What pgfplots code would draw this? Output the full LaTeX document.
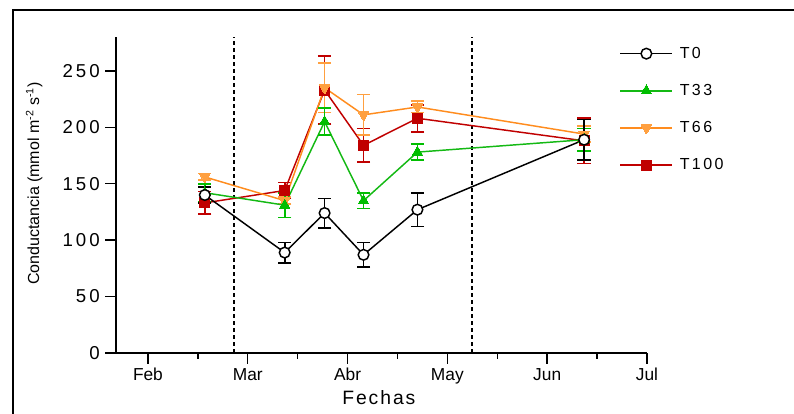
\documentclass[border=0pt]{standalone}
\usepackage{pgfplots}
\pgfplotsset{compat=1.18}
\usepackage{fontspec}
\setmainfont{Liberation Sans}
\newfontfamily\spaced[LetterSpace=10]{Liberation Sans}
\newfontfamily\tickfont[LetterSpace=16]{Liberation Sans}
\definecolor{cgreen}{RGB}{20,185,20}
\definecolor{cgreenm}{RGB}{0,190,0}
\definecolor{corange}{RGB}{255,140,30}
\definecolor{corangem}{RGB}{255,160,64}
\definecolor{cred}{RGB}{192,0,0}

\pgfplotstableread{
x y e
2.57 140 7
3.37 89 9
3.77 124 13
4.16 87 11
4.70 127 15
6.37 189 18
}\tzero
\pgfplotstableread{
x y e
2.57 142 8
3.37 131 11
3.77 205 12
4.16 135 7
4.70 178 7
6.37 189 10
}\tthree
\pgfplotstableread{
x y e
2.57 156 3
3.37 135 3
3.77 235 22
4.16 211 18
4.70 218 5
6.37 194 7
}\tsix
\pgfplotstableread{
x y e
2.57 133 10
3.37 144 7
3.77 233 30
4.16 184 15
4.70 208 12
6.37 188 20
}\thund

\begin{document}
\begin{tikzpicture}
\useasboundingbox (-87pt,-45.75pt) rectangle (508.5pt,264.75pt);
\draw[line width=1.2pt, line join=miter] (-77.25pt,-50pt) -- (-77.25pt,257.25pt) -- (515pt,257.25pt);
\begin{axis}[
  at={(0,0)}, anchor=south west,
  scale only axis, width=398.25pt, height=237pt,
  xmin=1.68, xmax=7, ymin=0, ymax=280,
  axis x line=bottom, axis y line=left,
  axis line style={-, line width=1.1pt},
  xtick={2,3,4,5,6,7},
  xticklabels={Feb,Mar,Abr,May,Jun,Jul},
  minor xtick={2.5,3.5,4.5,5.5,6.5},
  ytick={0,50,100,150,200,250},
  tick align=outside,
  major tick length=8pt, minor tick length=4.5pt,
  every tick/.style={line width=1.1pt, black},
  /pgf/number format/assume math mode=true,
  yticklabel style={font=\tickfont\fontsize{14}{16}\selectfont, inner sep=1pt, xshift=-3pt},
  xticklabel style={font=\fontsize{13}{15}\selectfont},
  xlabel={\spaced Fechas},
  xlabel style={font=\fontsize{14.5}{16}\selectfont, at={(axis description cs:0.495,-0.142)}, anchor=center},
  ylabel={Conductancia (mmol m\textsuperscript{-2} s\textsuperscript{-1})},
  ylabel style={font=\fontsize{12}{14}\selectfont, at={(axis description cs:-0.154,0.536)}, anchor=center, rotate=0},
  legend style={at={(0.948,0.969)}, anchor=north west, draw=none, fill=none, inner sep=0pt,
    font=\fontsize{12}{14}\selectfont\addfontfeature{LetterSpace=15},
    row sep=18pt, column sep=5pt, nodes={inner sep=0pt, anchor=west}},
  legend cell align=left,
  legend image code/.code={\draw[mark repeat=2,mark phase=2] plot coordinates {(0pt,0pt) (19.5pt,0pt) (39pt,0pt)};},
  clip=false,
]
\addlegendimage{black, line width=1.1pt, mark=*, mark size=4pt, mark options={fill=white, line width=1.1pt}}
\addlegendentry{T0}
\addlegendimage{cgreen, line width=1.1pt, mark=triangle*, mark size=4.5pt, mark options={fill=cgreenm, draw=cgreenm, line width=0pt}}
\addlegendentry{T33}
\addlegendimage{corange, line width=1.1pt, mark=triangle*, mark size=4.5pt, mark options={rotate=180, fill=corangem, draw=corangem, line width=0pt}}
\addlegendentry{T66}
\addlegendimage{cred, line width=1.1pt, mark=square*, mark size=3.8pt, mark options={fill=cred, draw=cred, line width=0pt}}
\addlegendentry{T100}

\addplot[forget plot, black, line width=1.3pt, dashed, dash pattern=on 3pt off 2.25pt] coordinates {(2.86,0) (2.86,280)};
\addplot[forget plot, black, line width=1.3pt, dashed, dash pattern=on 3pt off 2.25pt] coordinates {(5.25,0) (5.25,280)};

\addplot[forget plot, cred, line width=1.1pt, mark=square*, mark size=3.8pt, mark options={fill=cred, draw=cred, line width=0pt},
  error bars/.cd, y dir=both, y explicit, error bar style={line width=1.3pt, cred}, error mark options={rotate=90, mark size=5pt, line width=1.3pt, cred}]
  table[x=x, y=y, y error=e] {\thund};
\addplot[forget plot, corange, line width=1.1pt, mark=triangle*, mark size=4.5pt, mark options={rotate=180, fill=corangem, draw=corangem, line width=0pt},
  error bars/.cd, y dir=both, y explicit, error bar style={line width=1.3pt, corangem}, error mark options={rotate=90, mark size=5pt, line width=1.3pt, corangem}]
  table[x=x, y=y, y error=e] {\tsix};
\addplot[forget plot, cgreen, line width=1.1pt, mark=triangle*, mark size=4.5pt, mark options={fill=cgreenm, draw=cgreenm, line width=0pt},
  error bars/.cd, y dir=both, y explicit, error bar style={line width=1.3pt, cgreenm}, error mark options={rotate=90, mark size=5pt, line width=1.3pt, cgreenm}]
  table[x=x, y=y, y error=e] {\tthree};
\addplot[forget plot, black, line width=1.1pt, mark=*, mark size=4pt, mark options={fill=white, line width=1.1pt},
  error bars/.cd, y dir=both, y explicit, error bar style={line width=1.3pt, black}, error mark options={rotate=90, mark size=5pt, line width=1.3pt, black}]
  table[x=x, y=y, y error=e] {\tzero};
\end{axis}
\end{tikzpicture}
\end{document}
